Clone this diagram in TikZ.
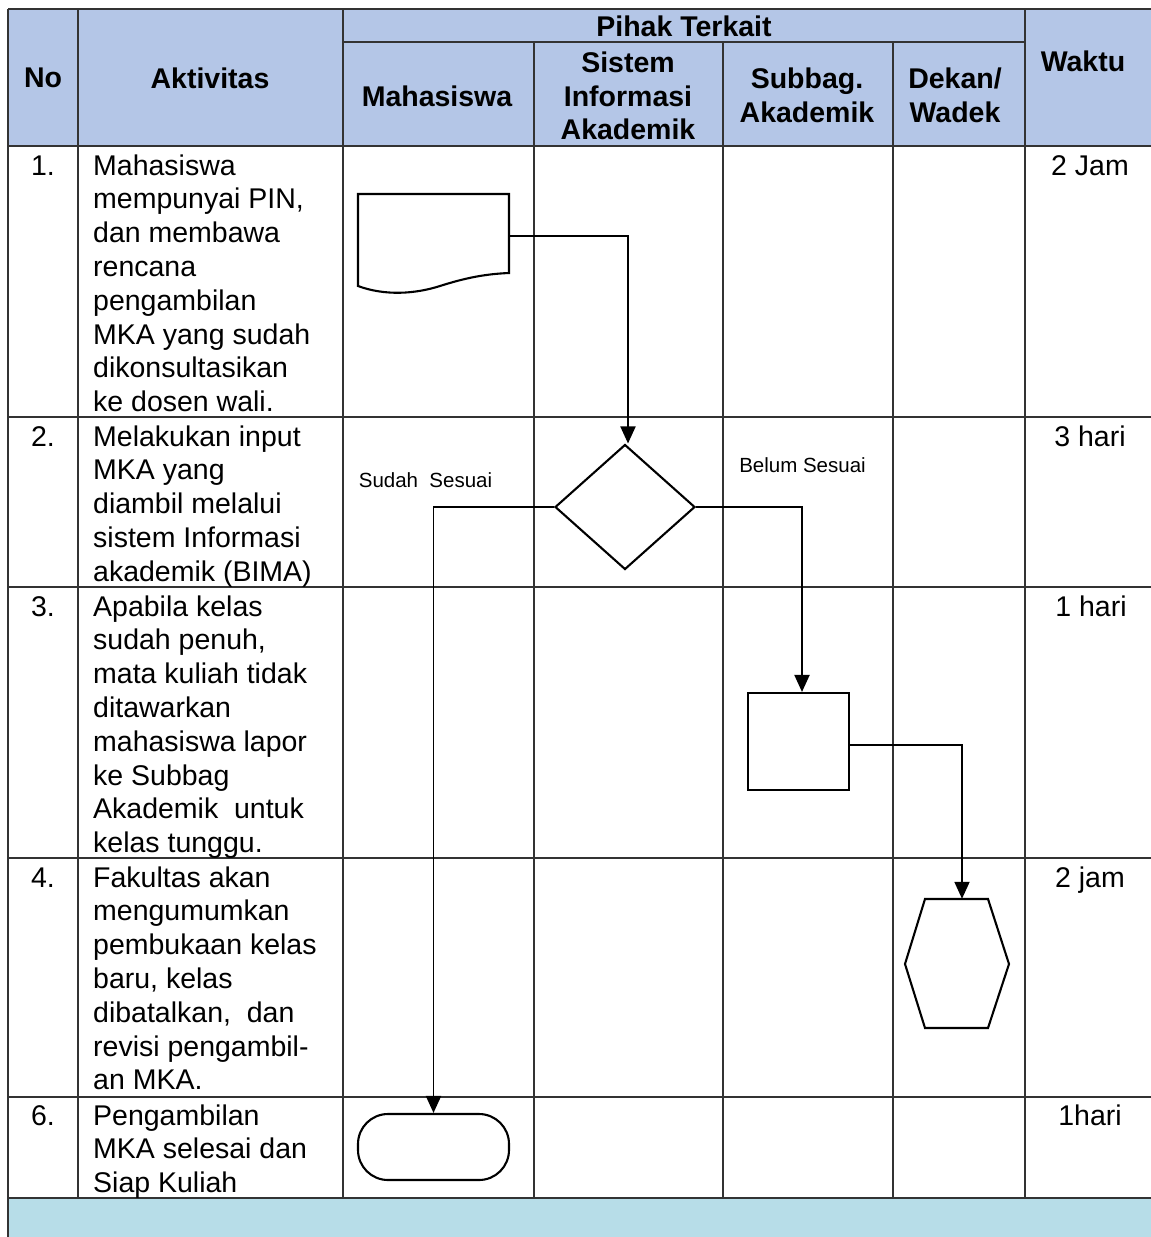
\documentclass[tikz,border=0pt]{standalone}
\usepackage{fontspec}
\setmainfont{Liberation Sans}
\usetikzlibrary{shapes.geometric,arrows.meta,calc}
\definecolor{hdrblue}{HTML}{B4C6E7}
\definecolor{bandblue}{HTML}{B7DDE8}
\newcommand{\ftxt}{\fontsize{28.5}{33.8}\selectfont}
\newcommand{\flab}{\fontsize{20.5}{24}\selectfont}
\newcommand{\lines}[1]{\parbox[t]{400pt}{\raggedright #1}}
\begin{document}
\begin{tikzpicture}[x=1pt,y=-1pt,
  gridline/.style={line width=1.3pt, black!80},
  shp/.style={draw, line width=2.1pt},
  flow/.style={line width=1.9pt, -{Triangle[length=17pt,width=15pt]}},
  body/.style={anchor=base west, inner sep=0pt, font=\ftxt},
  ctr/.style={anchor=base, inner sep=0pt, font=\ftxt},
  hd/.style={align=center, inner sep=0pt, font=\ftxt\bfseries},
  lab/.style={inner sep=0pt, font=\flab}]
\fill[white] (0,0) rectangle (1151,1237);
\useasboundingbox (0,0) rectangle (1151,1237);
% fills
\fill[hdrblue] (8,9) rectangle (1151,146);
\fill[bandblue] (8,1198) rectangle (1151,1237);
% grid
\draw[gridline] (8,9) -- (1151,9);
\draw[gridline] (343,42) -- (1025,42);
\foreach \y in {146,417,587,858,1097,1198} \draw[gridline] (8,\y) -- (1151,\y);
\draw[gridline] (8,9) -- (8,1237);
\foreach \x in {78,343,1025} \draw[gridline] (\x,9) -- (\x,1198);
\foreach \x in {534,723,893} \draw[gridline] (\x,42) -- (\x,1198);
% header
\node[hd] (hno) at (43,78) {No};
\node[hd] (hakt) at (210,78) {Aktivitas};
\node[hd] (hpihak) at (684,26) {Pihak Terkait};
\node[hd] (hmhs) at (437,96) {Mahasiswa};
\node[hd] (hsia) at (628,96) {Sistem\\Informasi\\Akademik};
\node[hd] (hsub) at (807,95.5) {Subbag.\\Akademik};
\node[hd] (hdek) at (955,95.5) {Dekan/\\Wadek};
\node[hd] (hwak) at (1083,61) {Waktu};
% numbers
\node[ctr] (n1) at (43,175) {1.};
\node[ctr] (n2) at (43,446) {2.};
\node[ctr] (n3) at (43,616) {3.};
\node[ctr] (n4) at (43,887) {4.};
\node[ctr] (n6) at (43,1125) {6.};
% activities
\node[body] (a1) at (93,175) {\lines{Mahasiswa\\mempunyai PIN,\\dan membawa\\rencana\\pengambilan\\MKA yang sudah\\dikonsultasikan\\ke dosen wali.}};
\node[body] (a2) at (93,446) {\lines{Melakukan input\\MKA yang\\diambil melalui\\sistem Informasi\\akademik (BIMA)}};
\node[body] (a3) at (93,616) {\lines{Apabila kelas\\sudah penuh,\\mata kuliah tidak\\ditawarkan\\mahasiswa lapor\\ke Subbag\\Akademik\ \ untuk\\kelas tunggu.}};
\node[body] (a4) at (93,887) {\lines{Fakultas akan\\mengumumkan\\pembukaan kelas\\baru, kelas\\dibatalkan,\ \ dan\\revisi pengambil-\\an MKA.}};
\node[body] (a6) at (93,1125) {\lines{Pengambilan\\MKA selesai dan\\Siap Kuliah}};
% waktu
\node[ctr] (w1) at (1090,175) {2 Jam};
\node[ctr] (w2) at (1090,446) {3 hari};
\node[ctr] (w3) at (1091,616) {1 hari};
\node[ctr] (w4) at (1090,887) {2 jam};
\node[ctr] (w6) at (1090,1125) {1hari};
% shapes
\node[minimum width=151pt, minimum height=98pt, inner sep=0pt] (doc) at (433.5,243) {};
\draw[shp] (358,194) -- (509,194) -- (509,273) .. controls (485,274) and (465,278) .. (440,286) .. controls (415,294) and (385,296) .. (358,286) -- cycle;
\node[diamond, shp, minimum width=140pt, minimum height=125pt, inner sep=0pt] (dia) at (625,507) {};
\node[shp, minimum width=101pt, minimum height=97pt, inner sep=0pt] (proc) at (798.5,741.5) {};
\node[minimum width=104pt, minimum height=129pt, inner sep=0pt] (hex) at (957,963.5) {};
\draw[shp] (925,899) -- (988,899) -- (1009,964) -- (988,1028) -- (925,1028) -- (905,964) -- cycle;
\node[shp, rounded corners=30pt, minimum width=151pt, minimum height=66pt, inner sep=0pt] (term) at (433.5,1147) {};
% flows
\draw[flow] ($(doc.east)+(0,-7)$) -| ($(dia.north)+(3,0)$);
\draw[flow] (dia.west) -| (term.north);
\draw[flow] (dia.east) -| ($(proc.north)+(3.5,0)$);
\draw[flow] ($(proc.east)+(0,3.5)$) -| ($(hex.north)+(5,0)$);
% labels
\node[lab] (lsudah) at (425.5,480) {Sudah\ \ Sesuai};
\node[lab] (lbelum) at (802.5,465) {Belum Sesuai};
\end{tikzpicture}
\end{document}
